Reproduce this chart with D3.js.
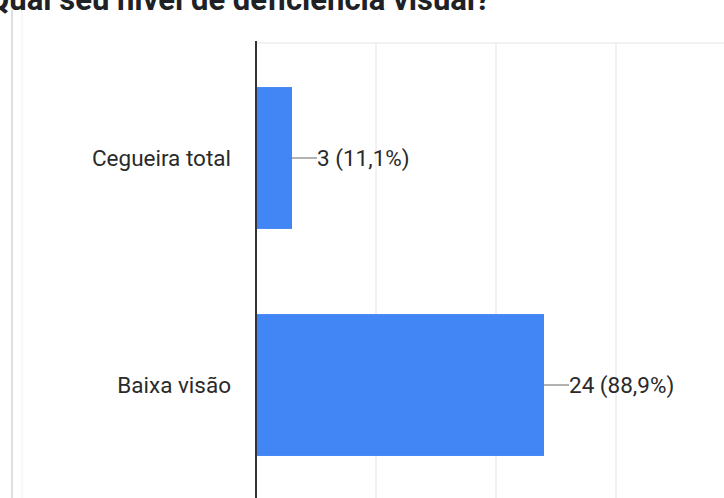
<!DOCTYPE html>
<html><head><meta charset="utf-8">
<script src="https://cdn.jsdelivr.net/npm/d3@7"></script>
<style>html,body{margin:0;padding:0;background:#fff;overflow:hidden}</style>
</head><body>
<svg id="c" width="724" height="498"></svg>
<script>
const title = "Qual seu nível de deficiência visual?";
const categories = ["Cegueira total", "Baixa visão"];
const counts = [3, 24];
const percents = ["11,1%", "88,9%"];
const ticks = [0, 10, 20, 30, 40];

const svg = d3.select("#c");
const W = 724, H = 498;

// card borders
svg.append("line").attr("x1",12).attr("x2",12).attr("y1",10).attr("y2",H).attr("stroke","#d4d4d4").attr("stroke-width",1.5);
svg.append("line").attr("x1",22).attr("x2",22).attr("y1",10).attr("y2",H).attr("stroke","#f2f2f2").attr("stroke-width",1);

// title (cut off at top, as in the reference)
svg.append("text").attr("x",-12).attr("y",10).text(title)
  .attr("font-family","Roboto, Arial, sans-serif").attr("font-weight","bold")
  .attr("font-size",31).attr("fill","#202124");

const x = d3.scaleLinear().domain([0, 40]).range([256, 256 + 40 * 12]);
const y = d3.scaleBand().domain(categories).range([43, 500]).paddingInner(0.375).paddingOuter(0.194);

// gridlines
svg.append("g").selectAll("line").data(ticks.filter(t => t > 0)).join("line")
  .attr("x1", d => x(d)).attr("x2", d => x(d)).attr("y1", 43).attr("y2", H)
  .attr("stroke", "#ececec").attr("stroke-width", 1.5);
svg.append("line").attr("x1", x(0)).attr("x2", W).attr("y1", 43).attr("y2", 43)
  .attr("stroke", "#ececec").attr("stroke-width", 1.5);

// bars
svg.append("g").selectAll("rect").data(categories).join("rect")
  .attr("x", x(0)).attr("y", d => y(d))
  .attr("width", (d, i) => x(counts[i]) - x(0)).attr("height", y.bandwidth())
  .attr("fill", "#4285f4");

// axis line
svg.append("line").attr("x1", x(0)).attr("x2", x(0)).attr("y1", 41).attr("y2", H)
  .attr("stroke", "#333").attr("stroke-width", 2);

// category labels
svg.append("g").selectAll("text").data(categories).join("text")
  .attr("x", 231).attr("y", d => y(d) + y.bandwidth() / 2).attr("dy", "0.35em")
  .attr("text-anchor", "end").text(d => d)
  .attr("font-family", "Roboto, Arial, sans-serif").attr("font-size", 22.5).attr("fill", "#2a2a2a");

// value labels with leader lines
const vl = svg.append("g");
categories.forEach((c, i) => {
  const cy = y(c) + y.bandwidth() / 2;
  const bx = x(counts[i]);
  vl.append("line").attr("x1", bx).attr("x2", bx + 25).attr("y1", cy).attr("y2", cy)
    .attr("stroke", "#999").attr("stroke-width", 1.5);
  vl.append("text").attr("x", bx + 25).attr("y", cy).attr("dy", "0.35em")
    .text(counts[i] + " (" + percents[i] + ")")
    .attr("font-family", "Roboto, Arial, sans-serif").attr("font-size", 22.5).attr("fill", "#2a2a2a");
});
</script>
</body></html>
